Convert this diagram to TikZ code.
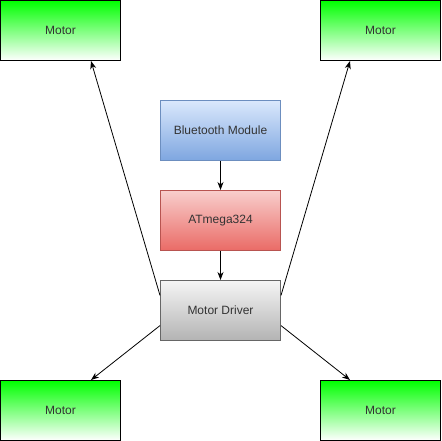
\documentclass[tikz,border=0pt]{standalone}
\usepackage{fontspec}
\setmainfont{Liberation Sans}
\usepackage{tikz}
\usetikzlibrary{positioning, arrows.meta}

\definecolor{motortop}{HTML}{00FF00}
\definecolor{btfill}{HTML}{DAE8FC}
\definecolor{btgrad}{HTML}{7EA6E0}
\definecolor{btline}{HTML}{6C8EBF}
\definecolor{atfill}{HTML}{F8CECC}
\definecolor{atgrad}{HTML}{EA6B66}
\definecolor{atline}{HTML}{B85450}
\definecolor{drfill}{HTML}{F5F5F5}
\definecolor{drgrad}{HTML}{B3B3B3}
\definecolor{drline}{HTML}{666666}
\definecolor{txt}{HTML}{333333}

\tikzset{
    block/.style={rectangle, minimum width=120pt, minimum height=60pt, inner sep=0pt, line width=1pt, text=txt, font=\fontsize{12}{14}\selectfont},
    motor/.style={block, draw=black, top color=motortop, bottom color=white},
    link/.style={-{Stealth[length=8pt, width=6pt, inset=2.5pt]}, line width=0.8pt}
}

\begin{document}
\begin{tikzpicture}[x=1pt, y=-1pt, node distance=29pt]
        \useasboundingbox (0,0) rectangle (441,441);

        \node[block, draw=btline, top color=btfill, bottom color=btgrad] (bt) at (220.5,130.5) {Bluetooth Module};
        \node[block, draw=atline, top color=atfill, bottom color=atgrad, below=of bt] (atm) {ATmega324};
        \node[block, draw=drline, top color=drfill, bottom color=drgrad, below=of atm] (drv) {Motor Driver};

        \node[motor] (m1) at (60.5,30.5) {Motor};
        \node[motor] (m2) at (380.5,30.5) {Motor};
        \node[motor] (m3) at (60.5,410.5) {Motor};
        \node[motor] (m4) at (380.5,410.5) {Motor};

        \draw[link] (bt.south) -- (atm.north);
        \draw[link] (atm.south) -- (drv.north);

        \draw[link] (drv.166) -- (m1.-45);
        \draw[link] (drv.14) -- (m2.225);
        \draw[link] (drv.194) -- (m3.45);
        \draw[link] (drv.346) -- (m4.135);
    \end{tikzpicture}
\end{document}
